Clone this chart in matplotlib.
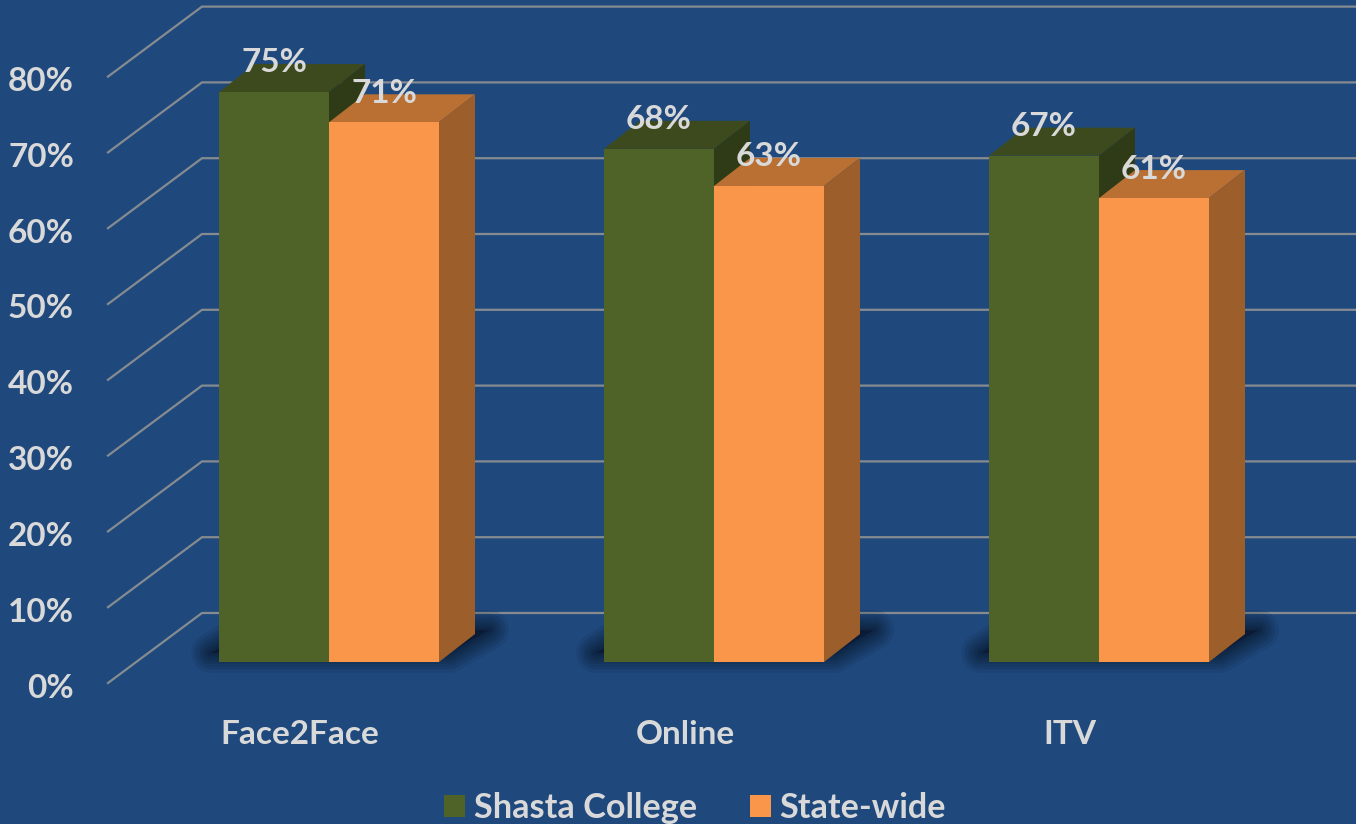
import numpy as np
import matplotlib
matplotlib.use("Agg")
import matplotlib.pyplot as plt
from matplotlib.patches import Polygon, Patch

categories = ["Face2Face", "Online", "ITV"]
shasta = [75.2, 67.7, 66.8]
state = [71.2, 62.8, 61.2]
y_ticks = [0, 10, 20, 30, 40, 50, 60, 70, 80]
series_names = ["Shasta College", "State-wide"]

BG = "#1F497D"
TEXT = "#D9D9D9"
GRID = "#868B90"
GREEN = ("#4F6228", "#3C4A1E", "#2F3B17")
ORANGE = ("#FA9649", "#BA7033", "#9C5F2C")

W, H = 1356, 824
PX_X = 385.0   # pixels per category
PX_Y = 7.58    # pixels per percent
X0, Y0 = 329, 662  # pixel position of first group centre / baseline


def xp(px):
    return px / PX_X


def yp(px):
    return px / PX_Y


plt.rcParams["font.family"] = ["Lato", "DejaVu Sans"]
plt.rcParams["font.weight"] = "bold"

fig = plt.figure(figsize=(W / 100, H / 100), dpi=100, facecolor=BG)
ax = fig.add_axes([0, 0, 1, 1], facecolor=BG)
ax.set_xlim(-X0 / PX_X, (W - X0) / PX_X)
ax.set_ylim((Y0 - H) / PX_Y, Y0 / PX_Y)
ax.axis("off")

# back wall + side wall lines
for v in y_ticks:
    back_x = xp(202 - X0)
    back_y = v + yp(Y0 - 613)
    ax.plot([xp(108 - X0), back_x, xp(W - X0)],
            [back_y - yp(70), back_y, back_y],
            color=GRID, lw=1.6, zorder=1, solid_joinstyle="miter")
    ax.text(xp(74 - X0), v + yp(Y0 - 688), f"{v}%", ha="right", va="center",
            color=TEXT, fontsize=24, zorder=6)

bar_w = xp(110)
dx = xp(36)
dy = yp(28)

# soft floor shadow, stacked strokes
for i in range(len(categories)):
    pts = [(i + xp(-118), yp(9)), (i + xp(120), yp(9)),
           (i + xp(160), yp(32)), (i + xp(-80), yp(32))]
    for lw in [40, 33, 27, 22, 17, 13, 9, 6, 3]:
        ax.add_patch(Polygon(pts, closed=True, facecolor="none", edgecolor="#0A1830",
                             lw=lw * 0.72, alpha=0.12, joinstyle="round", zorder=2))
    ax.add_patch(Polygon(pts, closed=True, facecolor="#0A1830", edgecolor="none",
                         alpha=0.75, zorder=2))


def draw_bar(left, val, cols, z):
    ax.bar(left, val, width=bar_w, align="edge", color=cols[0], lw=0, zorder=z + 0.2)
    right = left + bar_w
    ax.add_patch(Polygon([(left, val), (right, val), (right + dx, val + dy), (left + dx, val + dy)],
                         closed=True, facecolor=cols[1], edgecolor="none", zorder=z))
    ax.add_patch(Polygon([(right, 0), (right + dx, dy), (right + dx, val + dy), (right, val)],
                         closed=True, facecolor=cols[2], edgecolor="none", zorder=z))
    ax.text(left + bar_w / 2, val + yp(29), f"{val:.0f}%", ha="center", va="center",
            color=TEXT, fontsize=24, zorder=6)


for i, name in enumerate(categories):
    draw_bar(i - bar_w, shasta[i], GREEN, 3)
    draw_bar(i, state[i], ORANGE, 4)
    ax.text(i + xp(-29), yp(662 - 735), name, ha="center", va="center",
            color=TEXT, fontsize=24, zorder=6)

handles = [Patch(facecolor=GREEN[0], label=series_names[0]),
           Patch(facecolor=ORANGE[0], label=series_names[1])]
ax.legend(handles=handles, loc="center", bbox_to_anchor=(695 / W, 1 - 808 / H), ncol=2,
          frameon=False, fontsize=24.7, labelcolor=TEXT, handlelength=0.62, handleheight=0.62,
          handletextpad=0.25, columnspacing=1.55, borderpad=0)

fig.savefig("out.png", dpi=100, facecolor=BG)
